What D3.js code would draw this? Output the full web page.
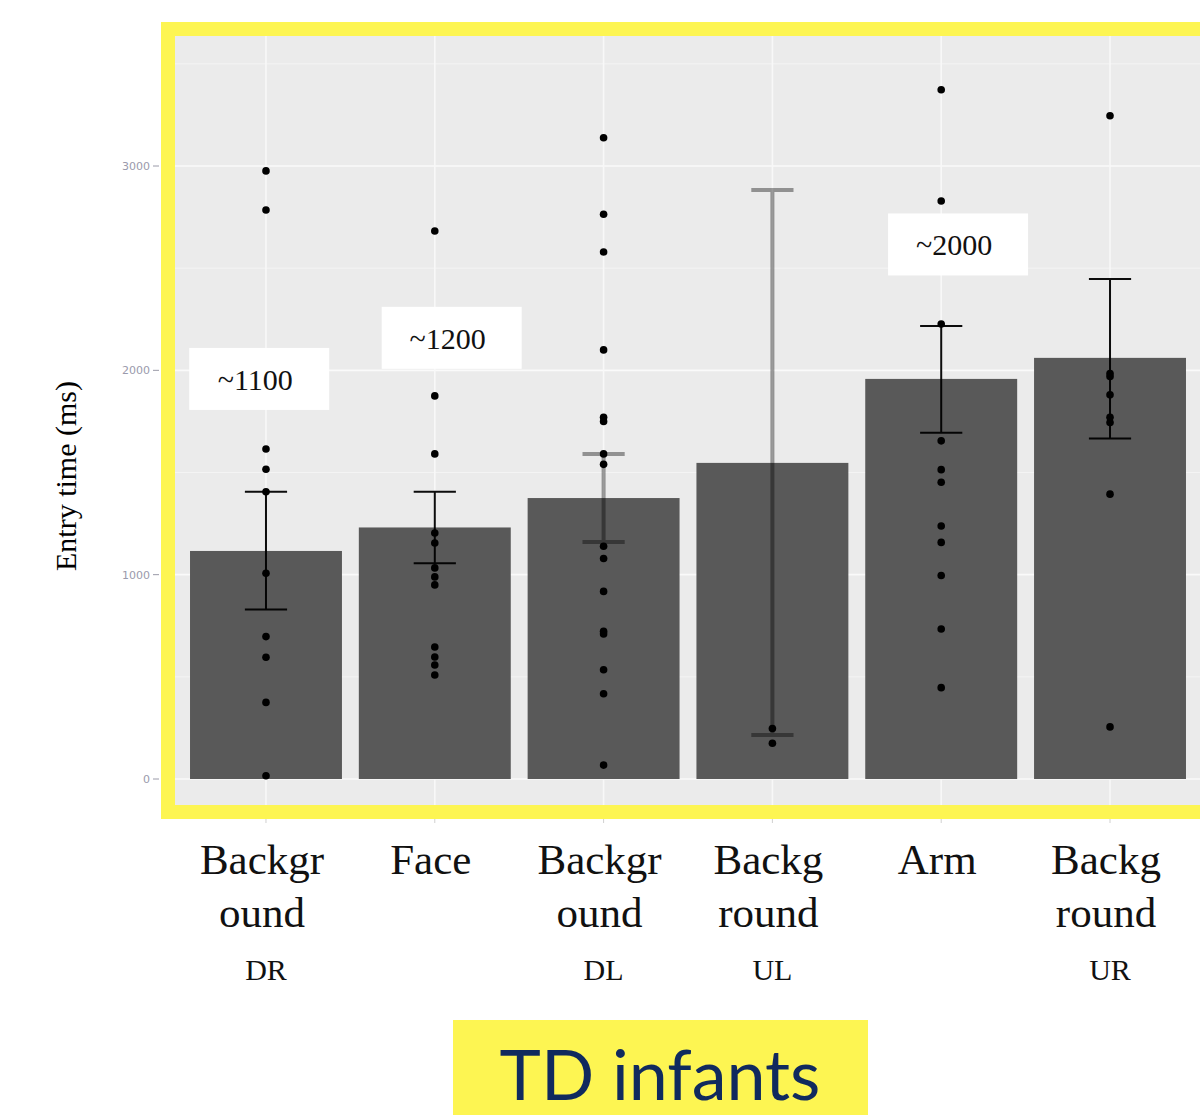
<!DOCTYPE html>
<html>
<head>
<meta charset="utf-8">
<script src="https://cdn.jsdelivr.net/npm/d3@7"></script>
<style>
  html, body { margin: 0; padding: 0; background: #ffffff; }
  svg { display: block; }
</style>
</head>
<body>
<svg id="chart" width="1200" height="1115"></svg>
<script>
// ---------- data ----------
const categories = ["Background DR", "Face", "Background DL", "Background UL", "Arm", "Background UR"];
const labelLines = [["Backgr", "ound", "DR"], ["Face"], ["Backgr", "ound", "DL"], ["Backg", "round", "UL"], ["Arm"], ["Backg", "round", "UR"]];
const meanValues = [1116, 1231, 1375, 1547, 1958, 2061];
const errLow = [830, 1056, 1160, 215, 1694, 1667];
const errHigh = [1406, 1406, 1591, 2883, 2217, 2447];

const pointsDR = [2976, 2785, 1615, 1516, 1406, 1007, 697, 596, 375, 16];
const pointsFace = [2682, 1875, 1591, 1204, 1155, 1033, 989, 950, 646, 597, 558, 509];
const pointsDL = [3138, 2764, 2579, 2100, 1770, 1750, 1591, 1540, 1139, 1079, 918, 723, 710, 535, 417, 68];
const pointsUL = [247, 175];
const pointsArm = [3373, 2829, 2227, 1655, 1514, 1452, 1238, 1158, 996, 734, 447];
const pointsUR = [3246, 1984, 1970, 1880, 1770, 1745, 1394, 255];

const yTicks = [0, 1000, 2000, 3000];
const yGridMinor = [500, 1500, 2500, 3500];

const annotationText = ["~1100", "~1200", "~2000"];
const annotationX = [0.96, 2.1, 5.1];      // category position
const annotationY = [1958, 2159, 2616];    // value position

const yTitle = "Entry time (ms)";
const captionText = "TD infants";

// ---------- scales ----------
const svg = d3.select("#chart");
const x = d3.scaleLinear().domain([0.4, 6.6]).range([164.7, 1211.3]);
const y = d3.scaleLinear().domain([0, 3000]).range([779, 166]);
const yMin = -170, yMax = 3640;
const step = x(2) - x(1);
const barW = step * 0.9;
const capW = step * 0.25;

const YELLOW = "#fdf552";

// ---------- panel ----------
svg.append("rect")
  .attr("x", x(0.4)).attr("y", y(yMax))
  .attr("width", x(6.6) - x(0.4)).attr("height", y(yMin) - y(yMax))
  .attr("fill", "#ebebeb");

// minor horizontal gridlines
svg.append("g").selectAll("line").data(yGridMinor).join("line")
  .attr("x1", x(0.4)).attr("x2", x(6.6))
  .attr("y1", d => y(d)).attr("y2", d => y(d))
  .attr("stroke", "#f4f4f4").attr("stroke-width", 1);

// major horizontal gridlines
svg.append("g").selectAll("line").data(yTicks).join("line")
  .attr("x1", x(0.4)).attr("x2", x(6.6))
  .attr("y1", d => y(d)).attr("y2", d => y(d))
  .attr("stroke", "#fafafa").attr("stroke-width", 1.6);

// vertical gridlines
svg.append("g").selectAll("line").data(categories).join("line")
  .attr("x1", (d, i) => x(i + 1)).attr("x2", (d, i) => x(i + 1))
  .attr("y1", y(yMax)).attr("y2", y(yMin))
  .attr("stroke", "#f8f8f8").attr("stroke-width", 1.6);

// bars
svg.append("g").selectAll("rect").data(meanValues).join("rect")
  .attr("x", (d, i) => x(i + 1) - barW / 2)
  .attr("width", barW)
  .attr("y", d => y(d))
  .attr("height", d => y(0) - y(d))
  .attr("fill", "#595959");

// error bars (the two wide ones are drawn translucent as in the source)
const errStyle = i => (i === 2 || i === 3) ? { op: 0.38, w: 4 } : { op: 0.95, w: 2 };
const eg = svg.append("g");
categories.forEach((c, i) => {
  const cx = x(i + 1), s = errStyle(i);
  const g = eg.append("g").attr("stroke", "#000").attr("stroke-opacity", s.op).attr("stroke-width", s.w).attr("fill", "none");
  g.append("path").attr("d",
    `M${cx - capW / 2},${y(errHigh[i])}H${cx + capW / 2}` +
    `M${cx},${y(errHigh[i])}V${y(errLow[i])}` +
    `M${cx - capW / 2},${y(errLow[i])}H${cx + capW / 2}`);
});

// points
const allPoints = [pointsDR, pointsFace, pointsDL, pointsUL, pointsArm, pointsUR];
const flat = allPoints.flatMap((arr, i) => arr.map(v => ({ i, v })));
svg.append("g").selectAll("circle").data(flat).join("circle")
  .attr("cx", d => x(d.i + 1))
  .attr("cy", d => y(d.v))
  .attr("r", 3.8)
  .attr("fill", "#000");

// annotation boxes
const ag = svg.append("g");
annotationText.forEach((t, k) => {
  const cx = x(annotationX[k]), cy = y(annotationY[k]);
  ag.append("rect").attr("x", cx - 70).attr("y", cy - 31).attr("width", 140).attr("height", 62).attr("fill", "#ffffff");
  ag.append("text").attr("x", cx - 4).attr("y", cy + 11)
    .attr("text-anchor", "middle")
    .attr("font-family", "'Liberation Serif', 'DejaVu Serif', serif")
    .attr("font-size", 30).attr("fill", "#111")
    .text(t);
});

// yellow frame over panel
svg.append("rect")
  .attr("x", 168).attr("y", 29)
  .attr("width", 1100).attr("height", 783)
  .attr("fill", "none").attr("stroke", YELLOW).attr("stroke-width", 14);

// y axis ticks and labels
const yAxis = svg.append("g");
yAxis.selectAll("line").data(yTicks).join("line")
  .attr("x1", 153).attr("x2", 159)
  .attr("y1", d => y(d)).attr("y2", d => y(d))
  .attr("stroke", "#9a9aa8").attr("stroke-width", 1);
yAxis.selectAll("text").data(yTicks).join("text")
  .attr("x", 150).attr("y", d => y(d) + 4)
  .attr("text-anchor", "end")
  .attr("font-family", "'DejaVu Sans', sans-serif")
  .attr("font-size", 11).attr("fill", "#9a9aac")
  .text(d => d3.format("d")(d));

// remnants of x ticks under frame
svg.append("g").selectAll("line").data(categories).join("line")
  .attr("x1", (d, i) => x(i + 1)).attr("x2", (d, i) => x(i + 1))
  .attr("y1", 819).attr("y2", 823)
  .attr("stroke", "#d0d0d0").attr("stroke-width", 1);

// y title
svg.append("text")
  .attr("transform", "translate(76,476) rotate(-90)")
  .attr("text-anchor", "middle")
  .attr("font-family", "'Liberation Serif', 'DejaVu Serif', serif")
  .attr("font-size", 30).attr("fill", "#000")
  .text(yTitle);

// x labels
const xl = svg.append("g")
  .attr("font-family", "'Liberation Serif', 'DejaVu Serif', serif")
  .attr("fill", "#111").attr("text-anchor", "middle");
const rowY = [874, 927, 980];
const rowSize = [43, 43, 30];
labelLines.forEach((lines, i) => {
  lines.forEach((ln, r) => {
    xl.append("text")
      .attr("x", x(i + 1) - (r < 2 ? 4 : 0))
      .attr("y", rowY[r])
      .attr("font-size", rowSize[r])
      .text(ln);
  });
});

// caption
svg.append("rect").attr("x", 453).attr("y", 1020).attr("width", 415).attr("height", 100).attr("fill", YELLOW);
svg.append("text")
  .attr("x", 660).attr("y", 1100)
  .attr("text-anchor", "middle")
  .attr("font-family", "Lato, 'Open Sans', sans-serif")
  .attr("font-size", 70).attr("fill", "#102a5e")
  .text(captionText);
</script>
</body>
</html>
